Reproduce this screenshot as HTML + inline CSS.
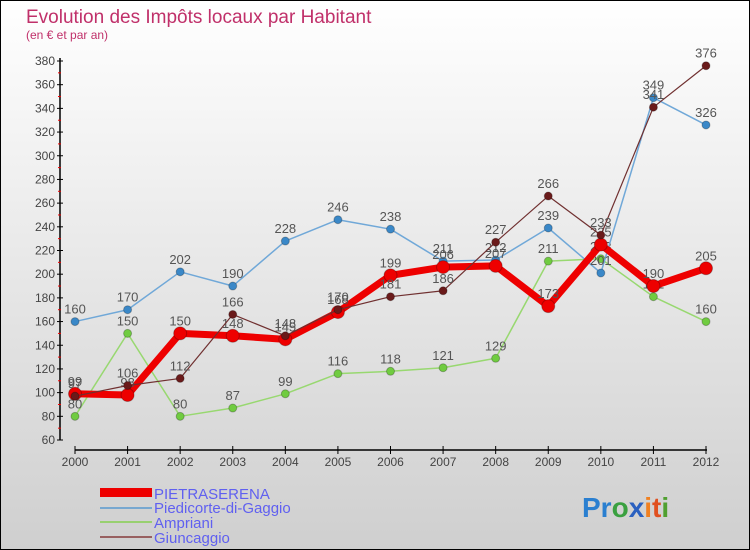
<!DOCTYPE html>
<html><head><meta charset="utf-8"><style>
body{margin:0;width:750px;height:550px;overflow:hidden;font-family:"Liberation Sans",sans-serif}
svg{display:block}
</style></head><body>
<svg id="chart" width="750" height="550" xmlns="http://www.w3.org/2000/svg">
<defs><linearGradient id="bg" x1="0" y1="0" x2="0" y2="1"><stop offset="0" stop-color="#ffffff"/><stop offset="1" stop-color="#cfcfcf"/></linearGradient></defs>
<rect x="0.5" y="0.5" width="749" height="549" fill="url(#bg)" stroke="#000"/>
<text x="26" y="23" font-size="19" fill="#c0306a">Evolution des Impôts locaux par Habitant</text>
<text x="26" y="39" font-size="12" fill="#c0306a">(en € et par an)</text>
<g id="axes"></g>
<g id="series"></g>
<g>
<rect x="100" y="488" width="52" height="9" fill="#ee0000"/>
<text x="154" y="499" font-size="15" fill="#6060f0">PIETRASERENA</text>
<rect x="100" y="507" width="52" height="2" fill="#78a8d0"/>
<text x="154" y="513" font-size="15" fill="#6060f0">Piedicorte-di-Gaggio</text>
<rect x="100" y="521" width="52" height="2" fill="#98d070"/>
<text x="154" y="528" font-size="15" fill="#6060f0">Ampriani</text>
<rect x="100" y="536" width="52" height="2" fill="#986060"/>
<text x="154" y="543" font-size="15" fill="#6060f0">Giuncaggio</text>
</g>
<g font-size="28" font-weight="bold">
<text x="582" y="517"><tspan fill="#2a7fd0">Pr</tspan><tspan fill="#3aa040">o</tspan><tspan fill="#2a60c0">x</tspan><tspan fill="#f08020">i</tspan><tspan fill="#e05020">t</tspan><tspan fill="#50a030">i</tspan></text>
</g>
</svg>
<script>
const years=["2000","2001","2002","2003","2004","2005","2006","2007","2008","2009","2010","2011","2012"];
const pietra=[99,98,150,148,145,168,199,206,207,173,225,190,205];
const piedi=[160,170,202,190,228,246,238,211,212,239,201,349,326];
const ampri=[80,150,80,87,99,116,118,121,129,211,213,181,160];
const giunc=[97,106,112,166,148,170,181,186,227,266,233,341,376];
const yTicks=[60,80,100,120,140,160,180,200,220,240,260,280,300,320,340,360,380];
const NS="http://www.w3.org/2000/svg";
const xs=i=>75+i*(706-75)/12;
const ys=v=>440-(v-60)*(440-61)/320;
function mk(t,a,p){const e=document.createElementNS(NS,t);for(const k in a)e.setAttribute(k,a[k]);p.appendChild(e);return e;}
const ax=document.getElementById('axes');
const yl=mk('line',{x1:60,y1:58,x2:60,y2:440,stroke:'#000','stroke-width':1.5},ax);


yTicks.forEach(v=>{
 mk('line',{x1:57,y1:ys(v),x2:63,y2:ys(v),stroke:'#000'},ax);
 if(v<380)mk('line',{x1:58,y1:ys(v+10),x2:61,y2:ys(v+10),stroke:'#e00'},ax);
 const t=mk('text',{x:55,y:ys(v)+4,'text-anchor':'end','font-size':12,fill:'#444'},ax);
 
 
 t.textContent=v;
});
const xl=mk('line',{x1:75,y1:450,x2:707,y2:450,stroke:'#000','stroke-width':1.5},ax);


years.forEach((y,i)=>{
 mk('line',{x1:xs(i),y1:446,x2:xs(i),y2:454,stroke:'#000'},ax);
 const t=mk('text',{x:xs(i),y:466,'text-anchor':'middle','font-size':12,fill:'#444'},ax);
 
 
 t.textContent=y;
});
const sg=document.getElementById('series');
function draw(name,data,col,fill,w,r){
 const g=mk('g',{},sg);
 
 
 mk('polyline',{points:data.map((v,i)=>xs(i)+','+ys(v)).join(' '),fill:'none',stroke:col,'stroke-width':w,'stroke-linejoin':'round'},g);
 data.forEach((v,i)=>{
  const c=mk('circle',{cx:xs(i),cy:ys(v),r:r,fill:fill,stroke:'rgba(0,0,0,0.25)'},g);
  
  
  const t=mk('text',{x:xs(i),y:ys(v)-8,'text-anchor':'middle','font-size':13,fill:'#555'},g);
  
  
  t.textContent=v;
 });
}
draw('ampriani',ampri,'#98d870','#70cc40',1.5,4);
draw('piedicorte',piedi,'#70a8d8','#3a88c8',1.5,4);
draw('pietraserena',pietra,'#ee0000','#ee0000',7,6.5);
draw('giuncaggio',giunc,'#703030','#6a1a1a',1.2,4);
</script>
</body></html>
